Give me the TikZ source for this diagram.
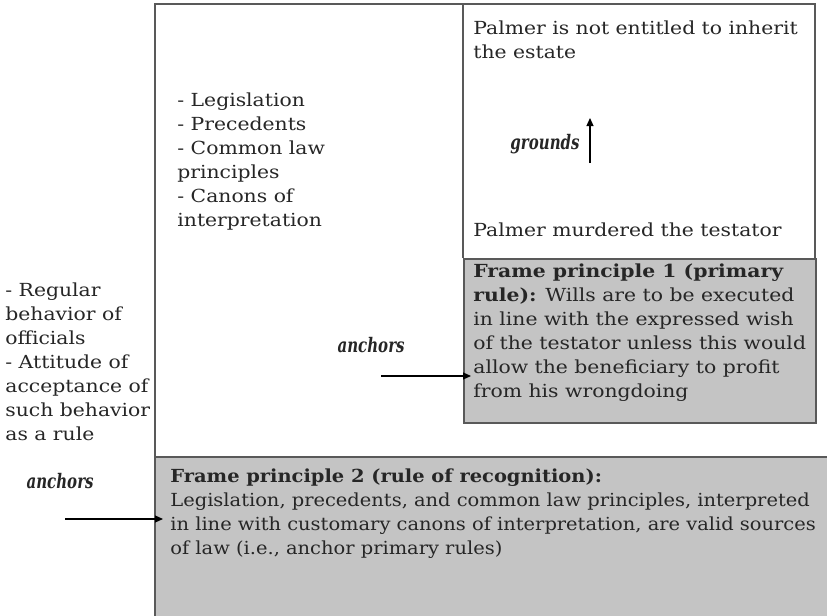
\documentclass[tikz,border=0pt]{standalone}
\usepackage{fontspec}
\setmainfont{DejaVu Serif}[FakeStretch=1.13]
\newfontfamily\lawfont{DejaVu Serif}[FakeStretch=1.08]
\newfontfamily\tagfont{DejaVu Serif}[FakeStretch=0.75]
\usepackage{tikz}
\usetikzlibrary{arrows.meta, positioning}

\begin{document}
\begin{tikzpicture} [
        x = 0.5pt, y = -0.5pt,
        frame/.style = {draw=black!65, line width=0.9pt},
        shaded/.style = {frame, fill=black!23},
        body/.style = {anchor=base west, align=left, inner sep=0pt, text=black!85, font=\fontsize{9}{12}\selectfont},
        tag/.style = {anchor=base east, inner sep=0pt, text=black!85, font=\tagfont\fontsize{10}{12}\selectfont\bfseries\itshape},
        link/.style = {draw, -{Triangle[length=4pt, width=3.5pt]}, line width=0.6pt}
    ]
    \useasboundingbox (0,0) rectangle (827,616);

    % boxes
    \node[anchor=north west, fill=black!23, inner sep=0pt, minimum width=336pt, minimum height=80pt] (fp2box) at (155,457) {};
    \draw[frame] (fp2box.north east) -- (fp2box.north west);
    \draw[frame] (155,616) -- (155,4) -- (815,4) -- (815,258);
    \draw[frame] (463,4) -- (463,258);
    \node[shaded, anchor=north west, inner sep=0pt, minimum width=176pt, minimum height=82pt] (fp1box) at (463,258) {};

    % texts (base = last line)
    \node[body] (sources) at (177,226) {- Legislation\\- Precedents\\- Common law\\principles\\- Canons of\\interpretation};
    \node[body] (verdict) at (473,58) {Palmer is not entitled to inherit\\the estate};
    \node[tag] (grounds) at (580,149) {grounds};
    \node[body] (fact) at (473,236) {Palmer murdered the testator};
    \node[body] (fp1) at (473,397) {\textbf{Frame principle 1 (primary}\\\textbf{rule):} Wills are to be executed\\in line with the expressed wish\\of the testator unless this would\\allow the beneficiary to profit\\from his wrongdoing};
    \node[tag] (anchor1) at (405,352) {anchors};
    \node[body] (practice) at (5,440) {- Regular\\behavior of\\officials\\- Attitude of\\acceptance of\\such behavior\\as a rule};
    \node[tag] (anchor2) at (94,488) {anchors};
    \node[body, font=\lawfont\fontsize{9}{12}\selectfont] (fp2) at (170,554) {\textbf{Frame principle 2 (rule of recognition):}\\Legislation, precedents, and common law principles, interpreted\\in line with customary canons of interpretation, are valid sources\\of law (i.e., anchor primary rules)};

    % arrows
    \coordinate (g0) at (590,163);
    \coordinate (g1) at (590,118);
    \coordinate (a1) at (381,376);
    \coordinate (a2) at (65,519);
    \draw[link] (g0) -- (g1);
    \draw[link] (a1) -- ([xshift=4pt]fp1box.west |- a1);
    \draw[link] (a2) -- ([xshift=4pt]fp2box.west |- a2);

\end{tikzpicture}
\end{document}
